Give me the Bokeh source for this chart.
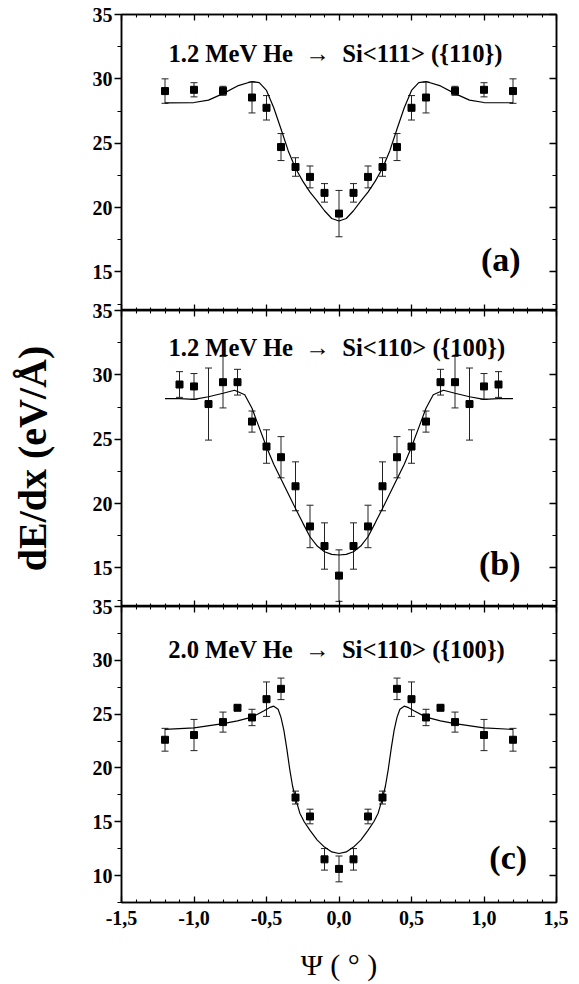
from bokeh.plotting import figure
from bokeh.layouts import column
from bokeh.models import (ColumnDataSource, Whisker, TeeHead, LinearAxis, FixedTicker,
                          CustomJSTickFormatter, CustomLabelingPolicy, Label, Range1d)
from bokeh.embed import file_html
from bokeh.resources import INLINE

FONT = "Liberation Serif"

# ---------------- data ----------------
x_ticks = [-1.5, -1.0, -0.5, 0.0, 0.5, 1.0, 1.5]
x_tick_labels = ["-1,5", "-1,0", "-0,5", "0,0", "0,5", "1,0", "1,5"]
x_minor_ticks = [-1.4, -1.3, -1.2, -1.1, -0.9, -0.8, -0.7, -0.6, -0.4, -0.3, -0.2, -0.1,
                 0.1, 0.2, 0.3, 0.4, 0.6, 0.7, 0.8, 0.9, 1.1, 1.2, 1.3, 1.4]
y_ticks_ab = [15, 20, 25, 30, 35]
y_minor_ab = [12.5, 17.5, 22.5, 27.5, 32.5]
y_ticks_c = [10, 15, 20, 25, 30, 35]
y_minor_c = [7.5, 12.5, 17.5, 22.5, 27.5, 32.5]

titles = ["1.2 MeV He\u00a0\u00a0\u2192\u00a0\u00a0Si<111> ({110})",
          "1.2 MeV He\u00a0\u00a0\u2192\u00a0\u00a0Si<110> ({100})",
          "2.0 MeV He\u00a0\u00a0\u2192\u00a0\u00a0Si<110> ({100})"]
tags = ["(a)", "(b)", "(c)"]

# panel (a)
a_x = [-1.2, -1.0, -0.8, -0.6, -0.5, -0.4, -0.3, -0.2, -0.1, 0.0,
       0.1, 0.2, 0.3, 0.4, 0.5, 0.6, 0.8, 1.0, 1.2]
a_y = [29.05, 29.15, 29.07, 28.55, 27.75, 24.7, 23.15, 22.38, 21.14, 19.53,
       21.14, 22.38, 23.15, 24.7, 27.75, 28.55, 29.07, 29.15, 29.05]
a_err = [0.95, 0.55, 0.35, 1.2, 0.95, 1.05, 0.72, 0.85, 0.72, 1.8,
         0.72, 0.85, 0.72, 1.05, 0.95, 1.2, 0.35, 0.55, 0.95]
a_fit_x = [-1.2, -1.0, -0.9, -0.8, -0.7, -0.6, -0.55, -0.5, -0.45, -0.4, -0.35, -0.3,
           -0.25, -0.2, -0.15, -0.1, -0.05, 0.0, 0.05, 0.1, 0.15, 0.2, 0.25, 0.3,
           0.35, 0.4, 0.45, 0.5, 0.55, 0.6, 0.7, 0.8, 0.9, 1.0, 1.2]
a_fit_y = [28.14, 28.16, 28.35, 28.85, 29.45, 29.79, 29.7, 29.1, 27.75, 26.1, 24.4, 23.05,
           22.05, 21.2, 20.5, 19.75, 19.15, 18.95, 19.15, 19.75, 20.5, 21.2, 22.05, 23.05,
           24.4, 26.1, 27.75, 29.1, 29.7, 29.79, 29.45, 28.85, 28.35, 28.16, 28.14]

# panel (b)
b_x = [-1.1, -1.0, -0.9, -0.8, -0.7, -0.6, -0.5, -0.4, -0.3, -0.2, -0.1, 0.0,
       0.1, 0.2, 0.3, 0.4, 0.5, 0.6, 0.7, 0.8, 0.9, 1.0, 1.1]
b_y = [29.25, 29.1, 27.73, 29.43, 29.43, 26.37, 24.43, 23.6, 21.34, 18.22, 16.7, 14.4,
       16.7, 18.22, 21.34, 23.6, 24.43, 26.37, 29.43, 29.43, 27.73, 29.1, 29.25]
b_err = [1.0, 1.0, 2.8, 2.0, 1.0, 0.82, 1.3, 1.6, 1.9, 1.65, 1.8, 2.0,
         1.8, 1.65, 1.9, 1.6, 1.3, 0.82, 1.0, 2.0, 2.8, 1.0, 1.0]
b_fit_x = [-1.2, -1.1, -1.0, -0.9, -0.8, -0.72, -0.65, -0.6, -0.55, -0.5, -0.45, -0.4,
           -0.35, -0.3, -0.25, -0.2, -0.15, -0.1, -0.05, 0.0, 0.05, 0.1, 0.15, 0.2,
           0.25, 0.3, 0.35, 0.4, 0.45, 0.5, 0.55, 0.6, 0.65, 0.72, 0.8, 0.9, 1.0, 1.1, 1.2]
b_fit_y = [28.16, 28.15, 28.1, 28.3, 28.57, 28.8, 28.45, 27.4, 25.9, 24.4, 23.06, 21.9,
           20.76, 19.62, 18.5, 17.42, 16.7, 16.25, 16.05, 16.0, 16.05, 16.25, 16.7, 17.42,
           18.5, 19.62, 20.76, 21.9, 23.06, 24.4, 25.9, 27.4, 28.45, 28.8, 28.57, 28.3, 28.1, 28.15, 28.16]

# panel (c)
c_x = [-1.2, -1.0, -0.8, -0.7, -0.6, -0.5, -0.4, -0.3, -0.2, -0.1, 0.0,
       0.1, 0.2, 0.3, 0.4, 0.5, 0.6, 0.7, 0.8, 1.0, 1.2]
c_y = [22.62, 23.06, 24.26, 25.59, 24.69, 26.39, 27.35, 17.25, 15.49, 11.51, 10.62,
       11.51, 15.49, 17.25, 27.35, 26.39, 24.69, 25.59, 24.26, 23.06, 22.62]
c_err = [1.06, 1.45, 0.93, 0.25, 0.76, 1.6, 1.0, 0.6, 0.68, 1.0, 1.2,
         1.0, 0.68, 0.6, 1.0, 1.6, 0.76, 0.25, 0.93, 1.45, 1.06]
c_fit_x = [-1.2, -1.0, -0.8, -0.7, -0.6, -0.52, -0.48, -0.45, -0.42, -0.4, -0.38, -0.36,
           -0.34, -0.32, -0.3, -0.27, -0.24, -0.2, -0.15, -0.1, -0.05, 0.0,
           0.05, 0.1, 0.15, 0.2, 0.24, 0.27, 0.3, 0.32, 0.34, 0.36, 0.38, 0.4, 0.42,
           0.45, 0.48, 0.52, 0.6, 0.7, 0.8, 1.0, 1.2]
c_fit_y = [23.58, 23.73, 24.12, 24.38, 24.72, 25.3, 25.6, 25.74, 25.45, 24.7, 23.5, 21.8,
           19.9, 18.3, 17.2, 15.8, 15.0, 14.2, 13.3, 12.65, 12.2, 12.05,
           12.2, 12.65, 13.3, 14.2, 15.0, 15.8, 17.2, 18.3, 19.9, 21.8, 23.5, 24.7, 25.45,
           25.74, 25.6, 25.3, 24.72, 24.38, 24.12, 23.73, 23.58]

# ---------------- drawing ----------------
FRAME_W, FRAME_H = 435, 296
LEFT_B, RIGHT_B = 121, 12
OVERLAP = 14

x_fmt = CustomJSTickFormatter(args=dict(xt=x_ticks, xl=x_tick_labels), code="""
    let best = 0;
    for (let i = 0; i < xt.length; i++) {
        if (Math.abs(xt[i] - tick) < Math.abs(xt[best] - tick)) best = i;
    }
    return xl[best];
""")


def hidden_axis(ticker, tick_len, minor_len):
    ax = LinearAxis(ticker=ticker)
    ax.major_label_policy = CustomLabelingPolicy(
        code="return new indices.constructor(indices.size)")
    ax.major_label_text_font_size = "0px"
    ax.major_label_standoff = 0
    ax.major_tick_in = tick_len
    ax.major_tick_out = 0
    ax.minor_tick_in = minor_len
    ax.minor_tick_out = 0
    ax.axis_line_width = 1.5
    ax.axis_line_color = "black"
    ax.major_tick_line_color = "black"
    ax.minor_tick_line_color = "black"
    ax.major_tick_line_width = 1.3
    ax.minor_tick_line_width = 1.1
    return ax


def make_panel(y_start, y_major, y_minor, xs, ys, errs, fx, fy, title, title_xy,
               tag, tag_xy, first=False, last=False, ylabel=None):
    p = figure(frame_width=FRAME_W, frame_height=FRAME_H,
               x_range=Range1d(-1.5, 1.5), y_range=Range1d(y_start, 35),
               output_backend="svg", toolbar_location=None,
               x_axis_location=None, y_axis_location=None,
               min_border_left=LEFT_B, min_border_right=RIGHT_B,
               min_border_top=14 if first else OVERLAP,
               min_border_bottom=86 if last else 0)
    p.xgrid.visible = False
    p.ygrid.visible = False
    p.outline_line_color = "black"
    p.outline_line_width = 1.5
    p.background_fill_color = "white"
    if not first:
        p.border_fill_alpha = 0
        p.margin = (-OVERLAP, 0, 0, 0)

    # left axis
    la = LinearAxis(ticker=FixedTicker(ticks=y_major, minor_ticks=y_minor))
    la.major_tick_out = 7
    la.major_tick_in = 0
    la.minor_tick_out = 4
    la.minor_tick_in = 0
    la.axis_line_width = 1.5
    la.axis_line_color = "black"
    la.major_tick_line_color = "black"
    la.minor_tick_line_color = "black"
    la.major_tick_line_width = 1.3
    la.minor_tick_line_width = 1.1
    la.major_label_text_font = FONT
    la.major_label_text_font_style = "bold"
    la.major_label_text_font_size = "20px"
    la.major_label_text_color = "black"
    la.major_label_standoff = 2
    if ylabel:
        la.axis_label = ylabel
        la.axis_label_text_font = FONT
        la.axis_label_text_font_style = "bold"
        la.axis_label_text_font_size = "40px"
        la.axis_label_text_color = "black"
        la.axis_label_standoff = 35
    p.add_layout(la, "left")

    # right axis
    p.add_layout(hidden_axis(FixedTicker(ticks=y_major, minor_ticks=y_minor), 7, 4), "right")
    # top axis
    p.add_layout(hidden_axis(FixedTicker(ticks=x_ticks, minor_ticks=x_minor_ticks), 6, 3), "above")
    # bottom axis
    if last:
        ba = LinearAxis(ticker=FixedTicker(ticks=x_ticks, minor_ticks=x_minor_ticks),
                        formatter=x_fmt)
        ba.major_tick_in = 6
        ba.major_tick_out = 0
        ba.minor_tick_in = 3
        ba.minor_tick_out = 0
        ba.axis_line_width = 1.5
        ba.axis_line_color = "black"
        ba.major_tick_line_color = "black"
        ba.minor_tick_line_color = "black"
        ba.major_tick_line_width = 1.3
        ba.minor_tick_line_width = 1.1
        ba.major_label_text_font = FONT
        ba.major_label_text_font_style = "bold"
        ba.major_label_text_font_size = "20px"
        ba.major_label_text_color = "black"
        ba.major_label_standoff = 8
        ba.axis_label = "\u03a8 ( \u00b0 )"
        ba.axis_label_text_font = FONT
        ba.axis_label_text_font_style = "normal"
        ba.axis_label_text_font_size = "30px"
        ba.axis_label_text_color = "black"
        ba.axis_label_standoff = 20
        p.add_layout(ba, "below")
    else:
        p.add_layout(hidden_axis(FixedTicker(ticks=x_ticks, minor_ticks=x_minor_ticks), 6, 3), "below")

    src = ColumnDataSource(dict(x=xs, y=ys,
                                upper=[y + e for y, e in zip(ys, errs)],
                                lower=[y - e for y, e in zip(ys, errs)]))
    p.line(fx, fy, line_color="black", line_width=1.2)
    p.add_layout(Whisker(source=src, base="x", upper="upper", lower="lower",
                         line_color="#222222", line_width=1,
                         upper_head=TeeHead(size=7, line_width=1, line_color="#222222"),
                         lower_head=TeeHead(size=7, line_width=1, line_color="#222222")))
    p.scatter("x", "y", source=src, marker="square", size=7,
              fill_color="black", line_color="black")

    p.add_layout(Label(x=title_xy[0], y=title_xy[1], text=title, text_font=FONT,
                       text_font_style="bold", text_font_size="24.6px",
                       text_align="left", text_baseline="alphabetic", text_color="black"))
    p.add_layout(Label(x=tag_xy[0], y=tag_xy[1], text=tag, text_font=FONT,
                       text_font_style="bold", text_font_size="34px",
                       text_align="right", text_baseline="alphabetic", text_color="black"))
    return p


pa = make_panel(12, y_ticks_ab, y_minor_ab, a_x, a_y, a_err, a_fit_x, a_fit_y,
                titles[0], (-1.176, 31.97), tags[0], (1.252, 15.96), first=True)
pb = make_panel(12, y_ticks_ab, y_minor_ab, b_x, b_y, b_err, b_fit_x, b_fit_y,
                titles[1], (-1.176, 32.13), tags[1], (1.252, 15.32),
                ylabel="dE/dx (eV/\u00c5)")
pc = make_panel(7.5, y_ticks_c, y_minor_c, c_x, c_y, c_err, c_fit_x, c_fit_y,
                titles[2], (-1.178, 31.0), tags[2], (1.297, 11.64), last=True)

layout = column(pa, pb, pc)
open("out.html", "w").write(file_html(layout, INLINE))
